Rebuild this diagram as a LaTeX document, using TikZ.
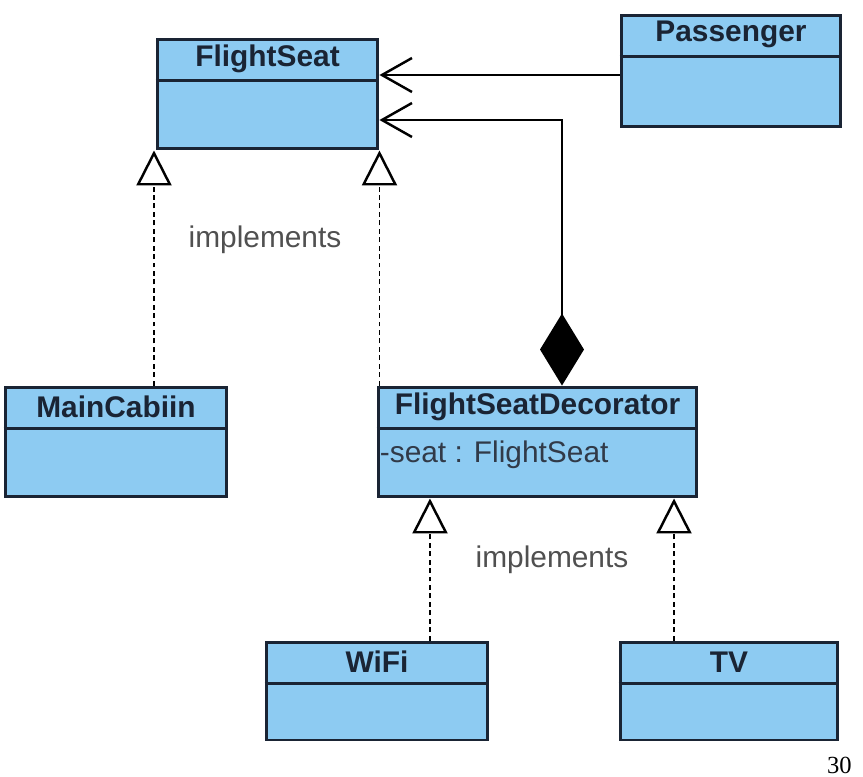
\documentclass[tikz,border=0pt]{standalone}
\usepackage{fontspec}
\setsansfont{Liberation Sans}
\newfontfamily\pagefont{Liberation Serif}
\usetikzlibrary{arrows.meta,positioning}
\definecolor{classfill}{RGB}{141,203,242}
\definecolor{classedge}{RGB}{26,36,52}
\definecolor{labelgray}{RGB}{80,80,80}

\begin{document}
\begin{tikzpicture}[x=0.02cm, y=-0.02cm,
        font=\sffamily\fontsize{17}{20}\selectfont,
        classbox/.style={draw=classedge, fill=classfill, line width=1.7pt, inner sep=0pt},
        classtitle/.style={anchor=north, minimum height=0.84cm, inner sep=0pt, font=\sffamily\bfseries\fontsize{17}{20}\selectfont, text=classedge},
        classline/.style={draw=classedge, line width=1.7pt},
        assoc/.style={line width=1.4pt, -{Straight Barb[length=0.6cm, width=0.68cm, line width=1.4pt]}},
        comp/.style={line width=1.4pt, {Diamond[length=1.44cm, width=0.88cm, fill=black]}-{Straight Barb[length=0.6cm, width=0.68cm, line width=1.4pt]}},
        realize/.style={line width=0.8pt, dash pattern=on 2.8pt off 2pt, -{Triangle[open, length=0.7cm, width=0.7cm, line width=1.4pt, fill=white]}}]
        \useasboundingbox (0,0) rectangle (863,777);

        % classes
        \node[classbox, minimum width=4.42cm, minimum height=2.2cm] (seat) at (267.5,94) {};
        \node[classtitle] (seat-t) at (seat.north) {FlightSeat};
        \node[classbox, minimum width=4.4cm, minimum height=2.24cm] (pass) at (731,71) {};
        \node[classtitle] (pass-t) at (pass.north) {Passenger};
        \node[classbox, minimum width=4.44cm, minimum height=2.2cm] (main) at (116,442) {};
        \node[classtitle] (main-t) at (main.north) {MainCabiin};
        \node[classbox, minimum width=6.38cm, minimum height=2.2cm] (dec) at (537.5,442) {};
        \node[classtitle] (dec-t) at (dec.north) {FlightSeatDecorator};
        \node[anchor=west, inner sep=0pt, text=classedge!90] (dec-a) at ([xshift=0.06cm, yshift=-1.38cm]dec.north west) {-seat : FlightSeat};
        \node[classbox, minimum width=4.44cm, minimum height=1.96cm] (wifi) at (377,691) {};
        \node[classtitle] (wifi-t) at (wifi.north) {WiFi};
        \node[classbox, minimum width=4.36cm, minimum height=1.96cm] (tv) at (729,691) {};
        \node[classtitle] (tv-t) at (tv.north) {TV};

        \foreach \c in {seat,pass,main,dec,wifi,tv}
                \draw[classline] (\c.west |- \c-t.south) -- (\c.east |- \c-t.south);

        % associations
        \coordinate (hub) at (562,120);
        \draw[assoc] (pass.west |- 0,75) -- (seat.east |- 0,75);
        \draw[comp] (dec.north -| hub) -- (hub) -- (hub -| seat.east);

        % realizations
        \draw[realize] (main.north -| 154,0) -- (seat.south -| 154,0);
        \draw[realize] (dec.north -| seat.south east) -- (seat.south east);
        \draw[realize] ([xshift=1.06cm]wifi.north) -- ([xshift=1.06cm]wifi.north |- dec.south);
        \draw[realize] ([xshift=-1.1cm]tv.north) -- ([xshift=-1.1cm]tv.north |- dec.south);

        \node[text=labelgray] (impl-a) at (265,240) {implements};
        \node[text=labelgray] (impl-b) at (552,560) {implements};

        \node[anchor=base east, inner sep=0pt, font=\pagefont\fontsize{14}{16}\selectfont] (page) at (852,773) {30};
\end{tikzpicture}
\end{document}
